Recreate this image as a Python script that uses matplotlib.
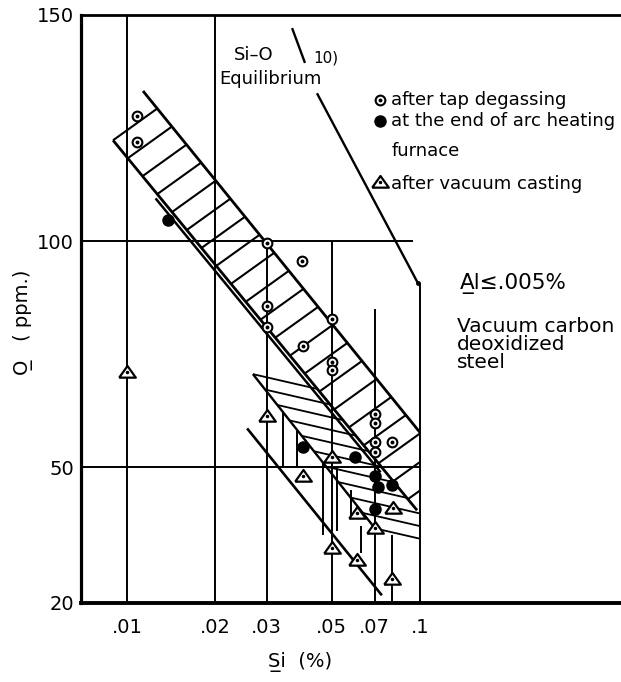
import numpy as np
import matplotlib.pyplot as plt

# after tap degassing (open circles with centre dot)
tap_si = [0.0108, 0.0108, 0.03, 0.0395, 0.03, 0.03, 0.05, 0.04, 0.05, 0.05, 0.07, 0.07, 0.07, 0.07, 0.08]
tap_o = [127.7, 121.9, 99.6, 95.6, 85.6, 81.0, 82.7, 76.8, 73.2, 71.5, 61.7, 59.7, 55.5, 53.3, 55.5]

# at the end of arc heating furnace (filled circles)
arc_si = [0.0138, 0.04, 0.06, 0.07, 0.072, 0.08, 0.07]
arc_o = [104.6, 54.4, 52.2, 48.0, 45.6, 46.0, 40.8]

# after vacuum casting (triangles)
vac_si = [0.01, 0.03, 0.04, 0.05, 0.05, 0.061, 0.061, 0.07, 0.081, 0.08]
vac_o = [71.0, 61.3, 48.0, 52.2, 32.1, 39.8, 29.4, 36.5, 40.9, 25.4]

# Si-O equilibrium line (two pieces, broken by its label)
eq_si = [[0.0366, 0.0405], [0.0445, 0.0984]]
eq_o = [[147.1, 139.4], [132.7, 90.7]]

# upper scatter band (tap degassing)
band1_upper = [(0.01134, 133.2), (0.1, 57.7)]
band1_lower = [(0.00896, 122.3), (0.0977, 40.5)]
hatch1_slope = 46.5      # ppm per decade of Si

# lower scatter band (vacuum casting)
band2_left = [(0.0269, 70.6), (0.0702, 36.5)]
band2_lower = [(0.0257, 58.6), (0.0741, 21.7)]
hatch2_slope = -14.9     # ppm per decade of Si

# vertical guide lines: Si, O from, O to
vlines = [(0.01, 20, 150), (0.02, 20, 150), (0.03, 20, 100), (0.05, 20, 100),
          (0.07, 20, 85), (0.1, 20, 90.7),
          (0.034, 50, 62), (0.038, 50, 58), (0.0467, 35, 51), (0.052, 36, 50),
          (0.058, 39, 45), (0.063, 31, 37), (0.08, 20, 35)]
# horizontal guide lines: O, Si to
hlines = [(100, 0.0946), (50, 0.1)]

xticks = [0.01, 0.02, 0.03, 0.05, 0.07, 0.1]
xticklabels = ['.01', '.02', '.03', '.05', '.07', '.1']
yticks = [20, 50, 100, 150]

XMIN, XMAX = 0.006966, 0.4853
UL = '\u0332'
TRI = [(-1, -0.62), (1, -0.62), (0, 0.78), (-1, -0.62)]


def uv(p):
    return np.array([np.log10(p[0]), p[1]])


def lerp(seg, t):
    a, b = uv(seg[0]), uv(seg[1])
    return a + (b - a) * t


def hit(p, slope, seg):
    # walk from p (u, v) along (1, slope) until the line through seg, or Si = 0.1
    a, b = uv(seg[0]), uv(seg[1])
    d = np.array([1.0, slope])
    e = b - a
    m = np.array([[d[0], -e[0]], [d[1], -e[1]]])
    s = np.linalg.solve(m, a - p)[0]
    s = min(s, -1.0 - p[0])
    return p + d * s


def main():
    fig = plt.figure(figsize=(6.21, 6.82), dpi=100)
    ax = fig.add_axes([81 / 621, 79 / 682, 540 / 621, 588 / 682])
    ax.set_xscale('log')
    ax.set_xlim(XMIN, XMAX)
    ax.set_ylim(20, 150)

    k = dict(color='black', solid_capstyle='butt')

    def seg(p, q, lw):
        ax.plot([10 ** p[0], 10 ** q[0]], [p[1], q[1]], lw=lw, **k)

    for si, lo, hi in vlines:
        ax.plot([si, si], [lo, hi], lw=1.4, **k)
    for o, x1 in hlines:
        ax.plot([XMIN, x1], [o, o], lw=1.4, **k)

    for xs, ys in zip(eq_si, eq_o):
        ax.plot(xs, ys, lw=1.7, **k)
    ax.plot([eq_si[1][1]], [eq_o[1][1]], 'o', ms=2.5, color='black')

    # upper band
    for s in (band1_upper, band1_lower):
        seg(uv(s[0]), uv(s[1]), 2.0)
    a = lerp(band1_lower, 0.14) - [0, 1.4]
    b = lerp(band1_lower, 0.88) - [0, 1.4]
    seg(a, b, 1.8)
    for t in np.linspace(0.0, 0.97, 21):
        p = lerp(band1_lower, t)
        seg(p, hit(p, hatch1_slope, band1_upper), 1.5)

    # lower band
    s = band2_lower
    seg(uv(s[0]), uv(s[1]), 1.9)
    seg(uv(band2_left[0]), uv(band2_left[1]), 1.7)
    for t in np.linspace(0, 1, 11):
        p = lerp(band2_left, t)
        seg(p, hit(p, hatch2_slope, band1_lower), 1.3)

    # points
    ax.plot(tap_si, tap_o, 'o', ms=7, mfc='white', mec='black', mew=1.5, zorder=5)
    ax.plot(tap_si, tap_o, 'o', ms=1.8, color='black', zorder=6)
    ax.plot(arc_si, arc_o, 'o', ms=8, color='black', zorder=5)
    ax.plot(vac_si, vac_o, marker=TRI, ls='', ms=12, mfc='white', mec='black', mew=1.6, zorder=5)
    ax.plot(vac_si, vac_o, 'o', ms=1.5, color='black', zorder=6)

    # key
    tr = ax.transAxes
    ax.plot([0.554], [0.855], 'o', ms=7, mfc='white', mec='black', mew=1.5, transform=tr)
    ax.plot([0.554], [0.855], 'o', ms=1.8, color='black', transform=tr)
    ax.plot([0.554], [0.820], 'o', ms=8, color='black', transform=tr)
    ax.plot([0.554], [0.716], marker=TRI, ls='', ms=12, mfc='white', mec='black', mew=1.6, transform=tr)
    ax.plot([0.554], [0.716], 'o', ms=1.5, color='black', transform=tr)
    kt = dict(transform=tr, ha='left', va='center', fontsize=13)
    ax.text(0.574, 0.855, 'after tap degassing', **kt)
    ax.text(0.574, 0.820, 'at the end of arc heating', **kt)
    ax.text(0.576, 0.768, 'furnace', **kt)
    ax.text(0.574, 0.713, 'after vacuum casting', **kt)

    ax.text(0.32, 0.932, 'Si–O', transform=tr, ha='center', va='center', fontsize=13)
    ax.text(0.35, 0.891, 'Equilibrium', transform=tr, ha='center', va='center', fontsize=13)
    ax.text(0.43, 0.927, '10)', transform=tr, ha='left', va='center', fontsize=11)
    ax.text(0.702, 0.544, 'A' + UL + 'l≤.005%', transform=tr,
            ha='left', va='center', fontsize=15.5)
    ax.text(0.696, 0.487, 'Vacuum carbon\ndeoxidized\nsteel', transform=tr,
            ha='left', va='top', fontsize=14.5, linespacing=0.95)

    ax.set_xticks(xticks)
    ax.set_xticklabels(xticklabels)
    ax.xaxis.set_minor_locator(plt.NullLocator())
    ax.set_yticks(yticks)
    ax.tick_params(length=0, labelsize=14)
    ax.tick_params(axis='x', pad=11)
    ax.tick_params(axis='y', pad=5)

    ax.set_xlabel('S' + UL + 'i  (%)', fontsize=14)
    ax.xaxis.set_label_coords(0.406, -0.083)
    ax.set_ylabel('O' + UL + '   ( ppm.)', fontsize=14)
    ax.yaxis.set_label_coords(-0.089, 0.478)

    ax.spines['right'].set_visible(False)
    ax.spines['left'].set_linewidth(2.3)
    ax.spines['bottom'].set_linewidth(2.8)
    ax.spines['top'].set_linewidth(2.0)

    fig.savefig('out.png', dpi=100)


if __name__ == '__main__':
    main()
